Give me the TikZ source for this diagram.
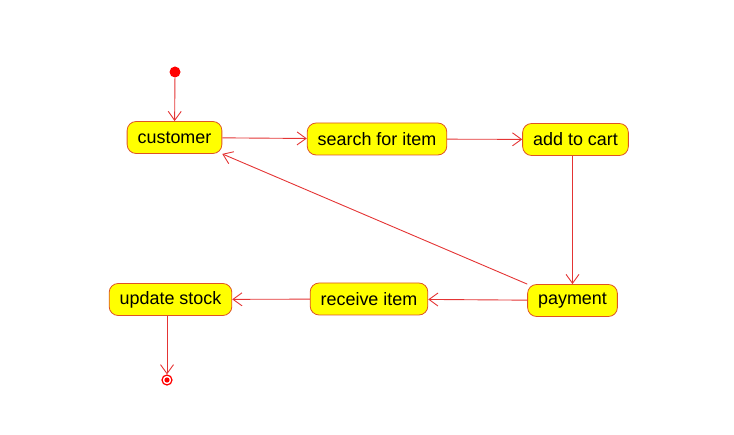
\documentclass[tikz,border=0pt]{standalone}
\usepackage{fontspec}
\setmainfont{Liberation Sans}
\usetikzlibrary{arrows.meta}
\definecolor{lred}{RGB}{228, 52, 52}
\definecolor{bred}{RGB}{222, 84, 36}
\definecolor{syellow}{RGB}{255, 255, 0}

\begin{document}
\begin{tikzpicture}[x=1bp, y=-1bp,
    state/.style={draw=bred, fill=syellow, rectangle, rounded corners=9bp,
      minimum height=32bp, inner xsep=10.5bp, line width=0.8bp,
      font=\fontsize{18}{20}\selectfont},
    flow/.style={draw=lred, line width=0.9bp, -{Straight Barb[length=9bp, width=13bp]}}]
    \useasboundingbox (0, 0) rectangle (734, 435);

    \node [circle, fill=red, inner sep=0pt, minimum size=11bp] (start) at (175, 72) {};
    \node [state] (customer) at (174.5, 137.5) {customer};
    \node [state] (search) at (377, 139) {search for item};
    \node [state] (cart) at (575.5, 139.5) {add to cart};
    \node [state] (payment) at (572.5, 300.5) {payment};
    \node [state] (receive) at (369, 299) {receive item};
    \node [state] (update) at (170.5, 299.5) {update stock};
    \node [circle, draw=red, line width=1.2bp, inner sep=0pt, minimum size=10bp] (end) at (167, 380) {};
    \fill [red] (end) circle (2.6bp);

    \draw [flow] (start) -- (customer);
    \draw [flow] (customer) -- (search);
    \draw [flow] (search) -- (cart);
    \draw [flow] (cart.south -| payment) -- (payment);
    \draw [flow] (payment.north west) -- (customer.south east);
    \draw [flow] (payment) -- (receive);
    \draw [flow] (receive) -- (update);
    \draw [flow] (update.south -| end) -- (end);
  \end{tikzpicture}
\end{document}
